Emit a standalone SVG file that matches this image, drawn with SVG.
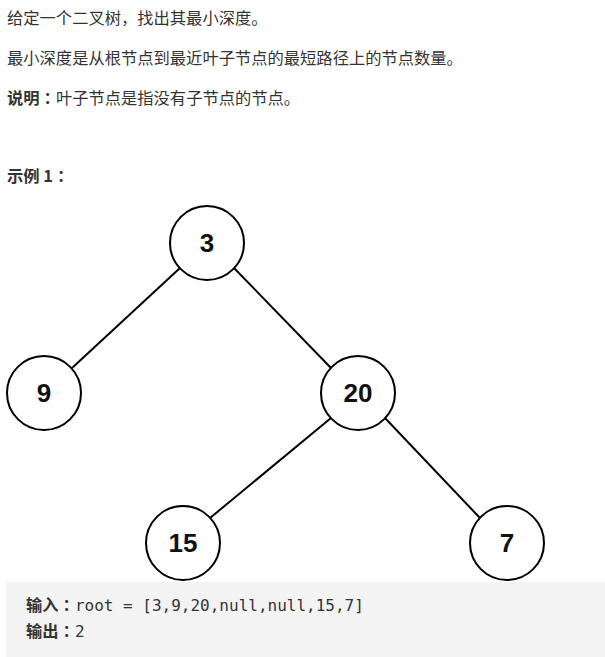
<svg xmlns="http://www.w3.org/2000/svg" width="605" height="657" viewBox="0 0 605 657">
<style>
.t{font-family:"Noto Sans CJK SC","Liberation Sans",sans-serif;font-size:16.3px;fill:#333}
.b{font-weight:bold}
.c{font-family:"Noto Sans CJK JP","Noto Sans CJK SC",sans-serif}
.n circle{fill:#fff;stroke:#000;stroke-width:2}
.n text{font-family:"Liberation Sans",Arial,sans-serif;font-size:26px;font-weight:bold;fill:#111;text-anchor:middle}
.e line{stroke:#000;stroke-width:2}
.m{font-family:"DejaVu Sans Mono",monospace;font-size:16px;fill:#333;font-weight:normal}
</style>
<rect width="605" height="657" fill="#fff"/>
<text class="t" x="7" y="24">给定一个二叉树，找出其最小深度。</text>
<text class="t" x="7" y="64">最小深度是从根节点到最近叶子节点的最短路径上的节点数量。</text>
<text class="t" x="7" y="104"><tspan class="b">说明<tspan class="c">：</tspan></tspan>叶子节点是指没有子节点的节点。</text>
<text class="t b" x="7" y="182">示例 1<tspan class="c">：</tspan></text>
<g id="edges" class="e">
<line x1="180" y1="268" x2="72" y2="368"/>
<line x1="234" y1="268" x2="331" y2="368"/>
<line x1="331" y1="418" x2="210" y2="518"/>
<line x1="385" y1="418" x2="480" y2="518"/>
</g>
<g id="n3" class="n"><circle cx="207" cy="243" r="37"/><text x="207" y="252">3</text></g>
<g id="n9" class="n"><circle cx="44" cy="393" r="37"/><text x="44" y="402">9</text></g>
<g id="n20" class="n"><circle cx="358" cy="393" r="37"/><text x="358" y="402">20</text></g>
<g id="n15" class="n"><circle cx="183" cy="543" r="37"/><text x="183" y="552">15</text></g>
<g id="n7" class="n"><circle cx="507" cy="543" r="37"/><text x="507" y="552">7</text></g>
<rect x="6" y="582" width="599" height="75" fill="#f3f3f3"/>
<text class="t b" x="26" y="611">输入<tspan class="c">：</tspan><tspan class="m">root = [3,9,20,null,null,15,7]</tspan></text>
<text class="t b" x="26" y="637">输出<tspan class="c">：</tspan><tspan class="m">2</tspan></text>
</svg>
